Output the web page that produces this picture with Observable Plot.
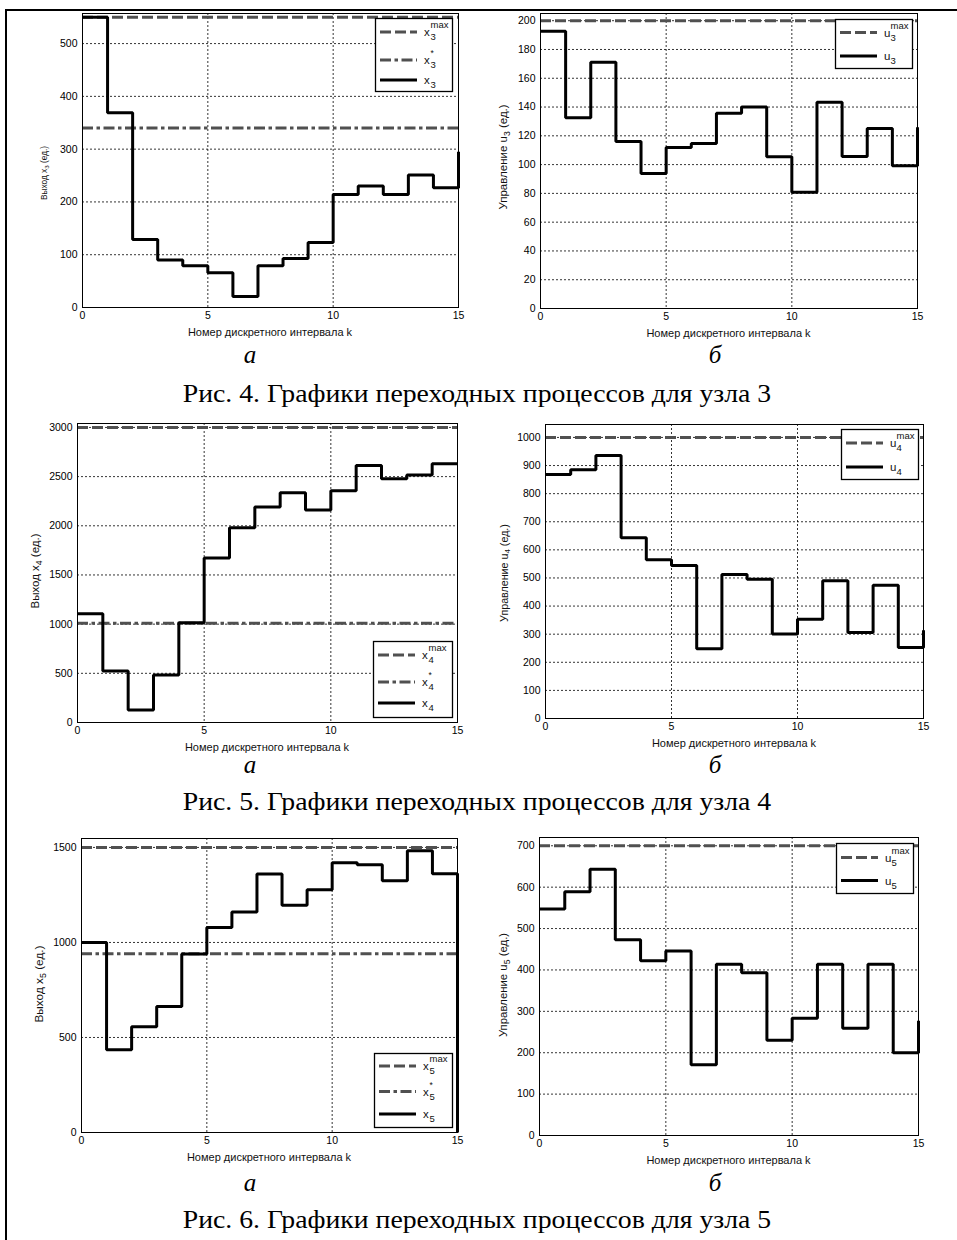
<!DOCTYPE html>
<html><head><meta charset="utf-8">
<script src="https://cdn.jsdelivr.net/npm/d3@7"></script>
<script src="https://cdn.jsdelivr.net/npm/@observablehq/plot@0.6"></script>
<style>
body{margin:0;background:#fff;}
#page{position:relative;width:957px;height:1240px;overflow:hidden;background:#fff;font-family:"Liberation Sans",Arial,sans-serif;}
.border{position:absolute;left:5px;top:9px;width:970px;height:1250px;border-top:2px solid #000;border-left:2px solid #000;}
.xlab{position:absolute;transform:translate(-50%,-50%);white-space:nowrap;color:#111;font-family:"Liberation Sans",Arial,sans-serif;}
.ylab{position:absolute;transform:translate(-50%,-50%) rotate(-90deg);white-space:nowrap;color:#111;font-family:"Liberation Sans",Arial,sans-serif;}
.ylab sub{font-size:75%;vertical-align:-0.3em;line-height:0;}
.cap{position:absolute;transform:translateX(-50%);white-space:nowrap;font-family:"Liberation Serif","Times New Roman",serif;color:#000;}
.capw{transform:translateX(-50%) scaleX(1.067);}
</style></head>
<body><div id="page"><div class="border"></div></div>
<script>
// ---------- data ----------
const steps = [0,1,2,3,4,5,6,7,8,9,10,11,12,13,14,15];
const xTicks = [0,5,10,15];

const x3 = [550,369,129,90,79,66,21,79,93,123,214,230,214,251,227,295];
const x3max = 550, x3star = 340;
const x3Ticks = [0,100,200,300,400,500];

const u3 = [192.6,132.6,171.2,116,93.9,111.9,114.6,135.6,140,105.4,80.7,143.3,105.7,125,99.2,126];
const u3max = 200;
const u3Ticks = [0,20,40,60,80,100,120,140,160,180,200];

const x4 = [1105,524,126,483,1013,1673,1979,2190,2337,2160,2357,2612,2479,2517,2632,2632];
const x4max = 3000, x4star = 1010;
const x4Ticks = [0,500,1000,1500,2000,2500,3000];

const u4 = [868,885,936,643,565,544,248,512,495,301,353,490,306,474,253,314];
const u4max = 1000;
const u4Ticks = [0,100,200,300,400,500,600,700,800,900,1000];

const x5 = [1000,435,556,663,939,1079,1160,1360,1196,1277,1419,1409,1325,1482,1361,0];
const x5max = 1500, x5star = 940;
const x5Ticks = [0,500,1000,1500];

const u5 = [547,589,643,473,422,446,171,414,393,230,283,414,259,414,200,277];
const u5max = 700;
const u5Ticks = [0,100,200,300,400,500,600,700];

const xLabel = "Номер дискретного интервала k";
const captions = ["Рис. 4. Графики переходных процессов для узла 3","Рис. 5. Графики переходных процессов для узла 4","Рис. 6. Графики переходных процессов для узла 5"];
const subLetters = ["а","б"];

// ---------- layout ----------
const panels = [
  {values:x3, max:x3max, star:x3star, ticks:x3Ticks, domain:[0,557], box:[82,458,13,307],
   ylab:{pre:"Выход x",sub:"3",post:" (ед.)",cx:44,cy:173,fs:8.3}, base:"x", idx:"3",
   legend:{left:375,top:18,w:78,h:74,rows:[14,42,62]}},
  {values:u3, max:u3max, star:null, ticks:u3Ticks, domain:[0,205], box:[540,917,13,308],
   ylab:{pre:"Управление u",sub:"3",post:" (ед.)",cx:503,cy:157,fs:11.5}, base:"u", idx:"3",
   legend:{left:835,top:19,w:78,h:50,rows:[13.5,37]}},
  {values:x4, max:x4max, star:x4star, ticks:x4Ticks, domain:[0,3040], box:[77,457,423,722],
   ylab:{pre:"Выход x",sub:"4",post:" (ед.)",cx:35,cy:571,fs:11.5}, base:"x", idx:"4",
   legend:{left:373,top:641,w:80,h:77,rows:[14,41,62]}},
  {values:u4, max:u4max, star:null, ticks:u4Ticks, domain:[0,1046], box:[545,923,424,718],
   ylab:{pre:"Управление u",sub:"4",post:" (ед.)",cx:504,cy:573,fs:10.7}, base:"u", idx:"4",
   legend:{left:841,top:429,w:78,h:51,rows:[14,38]}},
  {values:x5, max:x5max, star:x5star, ticks:x5Ticks, domain:[0,1547], box:[81,457,838,1132],
   ylab:{pre:"Выход x",sub:"5",post:" (ед.)",cx:39,cy:984,fs:11.8}, base:"x", idx:"5",
   legend:{left:374,top:1053,w:79,h:75,rows:[13,38.5,61]}},
  {values:u5, max:u5max, star:null, ticks:u5Ticks, domain:[0,720], box:[539,918,837,1135],
   ylab:{pre:"Управление u",sub:"5",post:" (ед.)",cx:503,cy:985,fs:11.4}, base:"u", idx:"5",
   legend:{left:836,top:843,w:78,h:51,rows:[14.5,37.5]}}
];

const page = document.getElementById("page");
const FONT = "Liberation Sans, Arial, sans-serif";
const DASH = "11,4", DASHDOT = "11,3.5,3.5,3.5";
const GRAY = "#505050";

panels.forEach(p => {
  const [L,R,T,B] = p.box;
  const mL = 45, mR = 6, mT = 4, mB = 22;
  const data = steps.map((k,i) => ({k, v:p.values[i]}));
  const grid = {stroke:"#000", strokeOpacity:1, strokeWidth:0.8, strokeDasharray:"2,2"};
  const marks = [
    Plot.gridX({ticks:xTicks, ...grid}),
    Plot.gridY({ticks:p.ticks, ...grid}),
    Plot.ruleY([p.max], {stroke:GRAY, strokeWidth:3, strokeDasharray:DASH}),
  ];
  if (p.star != null) marks.push(Plot.ruleY([p.star], {stroke:GRAY, strokeWidth:3, strokeDasharray:DASHDOT}));
  marks.push(
    Plot.line(data, {x:"k", y:"v", curve:"step-after", stroke:"#000", strokeWidth:3, strokeLinejoin:"miter", strokeLinecap:"butt"}),
    Plot.axisX({ticks:xTicks, tickSize:0, tickPadding:4, label:null, tickFormat:"d"}),
    Plot.axisY({ticks:p.ticks, tickSize:0, tickPadding:5, label:null, tickFormat:"d"}),
    Plot.frame({stroke:"#000", strokeWidth:1})
  );
  const svg = Plot.plot({
    width: mL + (R-L) + mR, height: mT + (B-T) + mB,
    marginLeft:mL, marginRight:mR, marginTop:mT, marginBottom:mB,
    x:{domain:[0,15]}, y:{domain:p.domain},
    style:{fontFamily:FONT, fontSize:"10.5px", color:"#000", background:"none", overflow:"visible"},
    marks
  });
  svg.style.position = "absolute";
  svg.style.left = (L - mL) + "px";
  svg.style.top = (T - mT) + "px";
  svg.style.maxWidth = "none";
  page.appendChild(svg);

  // axis labels
  const xl = document.createElement("div");
  xl.className = "xlab";
  xl.style.left = ((L+R)/2) + "px";
  xl.style.top = (B + 25) + "px";
  xl.style.fontSize = "11px";
  xl.textContent = xLabel;
  page.appendChild(xl);

  const yl = document.createElement("div");
  yl.className = "ylab";
  yl.style.left = p.ylab.cx + "px";
  yl.style.top = p.ylab.cy + "px";
  yl.style.fontSize = p.ylab.fs + "px";
  yl.innerHTML = p.ylab.pre + "<sub>" + p.ylab.sub + "</sub>" + p.ylab.post;
  page.appendChild(yl);

  // legend
  const lg = p.legend;
  const entries = [{dash:DASH, color:GRAY, sup:"max"}];
  if (p.star != null) entries.push({dash:DASHDOT, color:GRAY, sup:"*"});
  entries.push({dash:null, color:"#000", sup:null});
  const ls = d3.create("svg").attr("width", lg.w+2).attr("height", lg.h+2)
    .style("position","absolute").style("left",(lg.left-1)+"px").style("top",(lg.top-1)+"px");
  ls.append("rect").attr("x",1.5).attr("y",1.5).attr("width",lg.w-1).attr("height",lg.h-1)
    .attr("fill","#fff").attr("stroke","#000").attr("stroke-width",1.3);
  entries.forEach((e,i) => {
    const y = lg.rows[i] + 1;
    const ln = ls.append("line").attr("x1",6).attr("x2",43).attr("y1",y).attr("y2",y)
      .attr("stroke",e.color).attr("stroke-width",3);
    if (e.dash) ln.attr("stroke-dasharray", e.dash);
    const t = ls.append("text").attr("font-family",FONT).attr("fill","#111");
    t.append("tspan").attr("x",50).attr("y",y+4).attr("font-size",11.5).text(p.base);
    t.append("tspan").attr("x",56.5).attr("y",y+8).attr("font-size",9.5).text(p.idx);
    if (e.sup) t.append("tspan").attr("x",56.5).attr("y",y-4).attr("font-size",e.sup==="*"?8.5:9.5).text(e.sup);
  });
  page.appendChild(ls.node());
});

// captions and sub-figure letters
const capRows = [{letterY:341, capY:379}, {letterY:751, capY:787}, {letterY:1169, capY:1205}];
capRows.forEach((r,i) => {
  [250, 715].forEach((x,j) => {
    const d = document.createElement("div");
    d.className = "cap";
    d.style.left = x + "px";
    d.style.top = r.letterY + "px";
    d.style.fontSize = "25px";
    d.style.fontStyle = "italic";
    d.textContent = subLetters[j];
    page.appendChild(d);
  });
  const c = document.createElement("div");
  c.className = "cap capw";
  c.style.left = "477px";
  c.style.top = r.capY + "px";
  c.style.fontSize = "26px";
  c.textContent = captions[i];
  page.appendChild(c);
});
</script>
</body></html>
